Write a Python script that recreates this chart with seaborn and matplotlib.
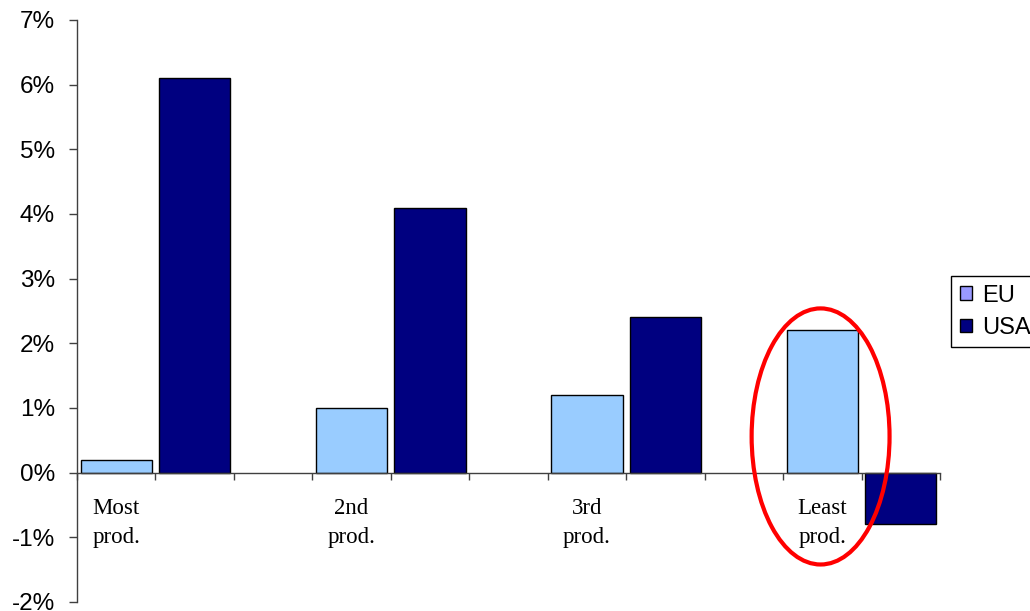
import numpy as np
import pandas as pd
import matplotlib
matplotlib.use("Agg")
import matplotlib.pyplot as plt
from matplotlib.patches import Patch, Ellipse
from matplotlib.ticker import FuncFormatter
import seaborn as sns

# Productivity growth by quartile of industries
groups = ["Most\nprod.", "2nd\nprod.", "3rd\nprod.", "Least\nprod."]
series = ["EU", "USA"]
eu_values = [0.2, 1.0, 1.2, 2.2]
usa_values = [6.1, 4.1, 2.4, -0.8]

bar_colors = {"EU": "#99CCFF", "USA": "#000080"}
legend_colors = {"EU": "#9999FF", "USA": "#000080"}

df = pd.DataFrame({
    "group": groups * 2,
    "series": ["EU"] * len(groups) + ["USA"] * len(groups),
    "value": eu_values + usa_values,
})

sns.set_style("white")
plt.rcParams["font.family"] = ["Liberation Sans", "DejaVu Sans"]
plt.rcParams["text.color"] = "black"
plt.rcParams["xtick.labelcolor"] = "black"
plt.rcParams["ytick.labelcolor"] = "black"

fig = plt.figure(figsize=(10.30, 6.11), dpi=100)
ax = fig.add_axes([77 / 1030, 1 - 602 / 611, (940 - 77) / 1030, (602 - 20) / 611])

sns.barplot(
    data=df, x="group", y="value", hue="series",
    order=groups, hue_order=series,
    palette=bar_colors, saturation=1, width=2 / 3, gap=0.09,
    edgecolor="black", linewidth=1.0,
    errorbar=None, legend=False, ax=ax,
)

axis_color = "#404040"

# Spines first: repositioning a spine resets the axis ticks
ax.spines["top"].set_visible(False)
ax.spines["right"].set_visible(False)
ax.spines["bottom"].set_position(("data", 0))
ax.spines["bottom"].set_color(axis_color)
ax.spines["left"].set_color(axis_color)
ax.spines["bottom"].set_linewidth(1)
ax.spines["left"].set_linewidth(1)
ax.grid(False)

ax.set_xlim(-1 / 3, 3 + 1 / 3)
ax.set_ylim(-2, 7)
ax.set_yticks(np.arange(-2, 8, 1))
ax.yaxis.set_major_formatter(FuncFormatter(lambda v, p: f"{v:.0f}%"))
ax.tick_params(axis="y", which="major", direction="out", length=6,
               width=1, color=axis_color, pad=10, labelsize=17.5,
               labelcolor="black", left=True)

# Category labels sit under the EU bars; small tick marks divide the slots
ax.tick_params(axis="x", which="major", length=0, pad=18, labelsize=16.5,
               labelcolor="black")
ax.set_xticks([k - 1 / 6 for k in range(len(groups))])
ax.set_xticklabels(groups)
for lbl in ax.xaxis.get_majorticklabels():
    lbl.set_fontfamily(["Liberation Serif", "DejaVu Serif"])
    lbl.set_fontsize(16.5)
    lbl.set_linespacing(1.5)
ax.set_xticks(np.arange(-1 / 3, 3 + 1 / 3 + 1e-6, 1 / 3), minor=True)
ax.tick_params(axis="x", which="minor", direction="out", length=5,
               width=1, color=axis_color, bottom=True)
ax.set_xlabel("")
ax.set_ylabel("")

# Highlight ring around the least productive group
ax.add_patch(Ellipse((2.826, 0.56), width=0.586, height=3.96,
                     fill=False, edgecolor="#FF0000", linewidth=3,
                     clip_on=False, zorder=5))

handles = [Patch(facecolor=legend_colors[s], edgecolor="black", linewidth=1, label=s)
           for s in series]
leg = fig.legend(handles=handles, loc="upper left",
                 bbox_to_anchor=(951 / 1030, 1 - 276 / 611),
                 bbox_transform=fig.transFigure, borderaxespad=0,
                 fontsize=17, frameon=True, fancybox=False, edgecolor="black",
                 framealpha=1, handlelength=0.52, handleheight=0.52,
                 handletextpad=0.42, borderpad=0.36, labelspacing=0.44)
for t in leg.get_texts():
    t.set_color("black")

fig.savefig("out.png", dpi=100)
